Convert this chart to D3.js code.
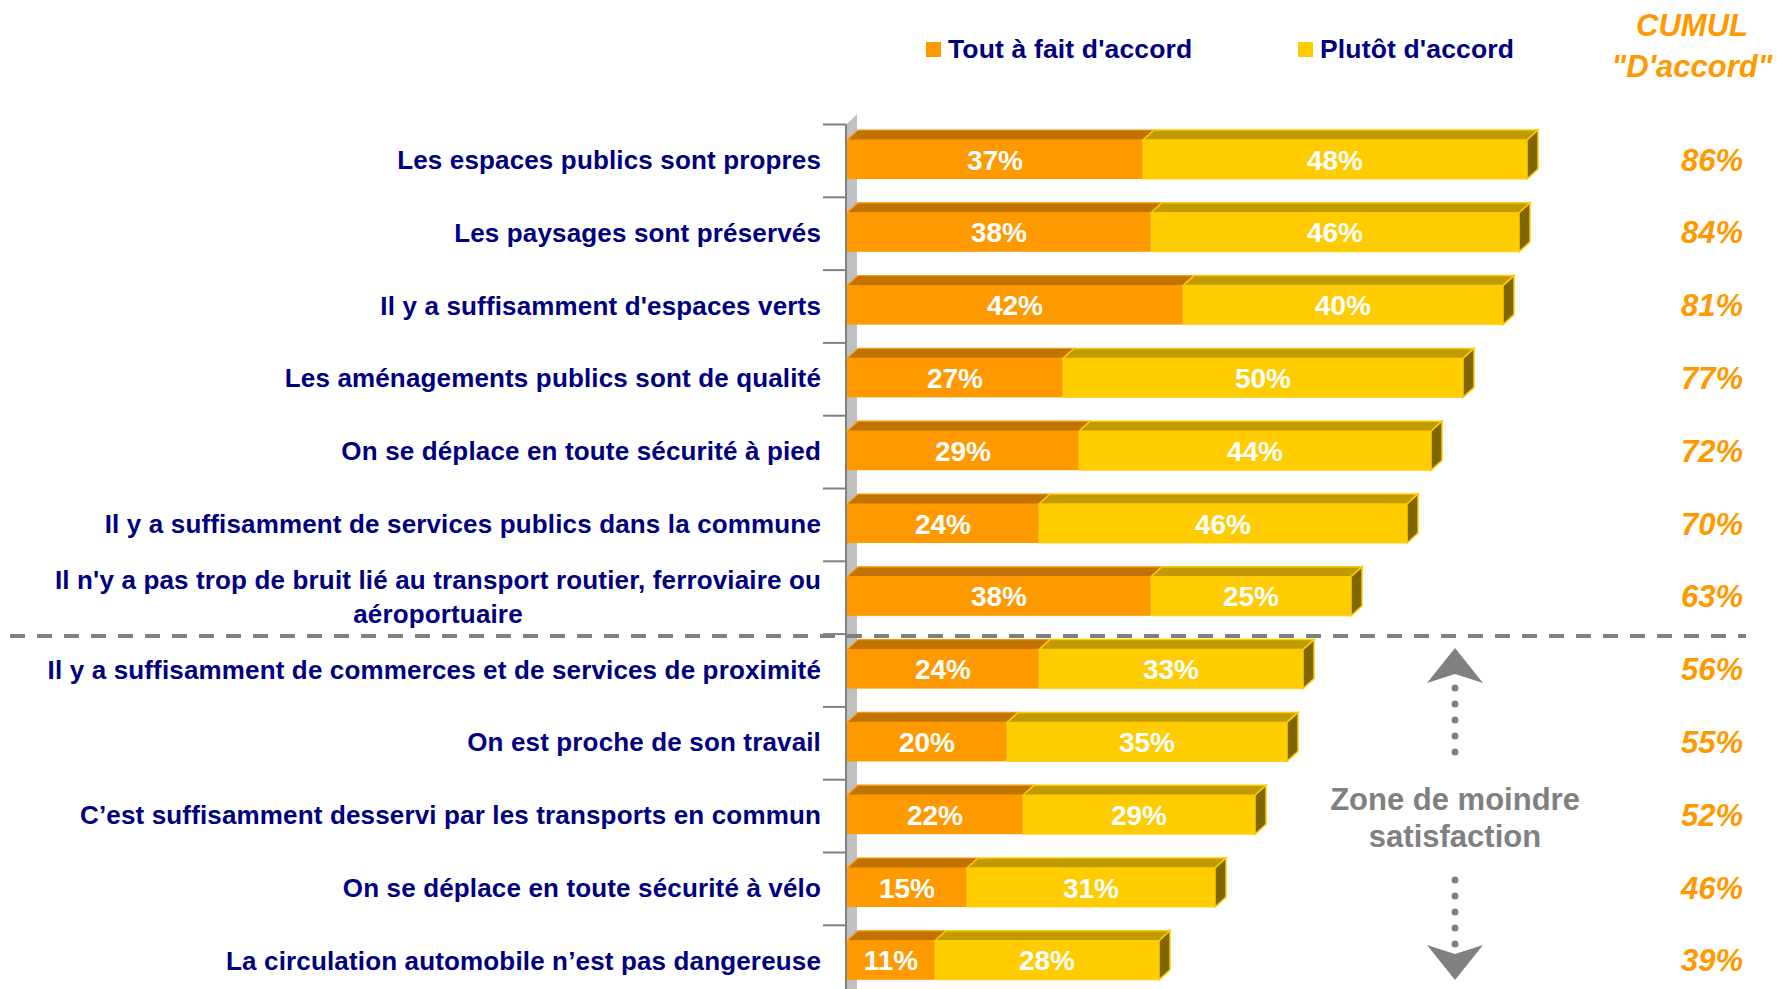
<!DOCTYPE html>
<html>
<head>
<meta charset="utf-8">
<script src="https://cdn.jsdelivr.net/npm/d3@7"></script>
<style>
  html, body { margin: 0; padding: 0; background: #fff; }
  svg { display: block; }
  text { font-family: "Liberation Sans", Arial, sans-serif; font-weight: bold; }
</style>
</head>
<body>
<svg id="chart" width="1778" height="989"></svg>
<script>
const categories = [
  "Les espaces publics sont propres",
  "Les paysages sont préservés",
  "Il y a suffisamment d'espaces verts",
  "Les aménagements publics sont de qualité",
  "On se déplace en toute sécurité à pied",
  "Il y a suffisamment de services publics dans la commune",
  "Il n'y a pas trop de bruit lié au transport routier, ferroviaire ou aéroportuaire",
  "Il y a suffisamment de commerces et de services de proximité",
  "On est proche de son travail",
  "C’est suffisamment desservi par les transports en commun",
  "On se déplace en toute sécurité à vélo",
  "La circulation automobile n’est pas dangereuse"
];
const toutAFait = [37, 38, 42, 27, 29, 24, 38, 24, 20, 22, 15, 11];
const plutot    = [48, 46, 40, 50, 44, 46, 25, 33, 35, 29, 31, 28];
const cumul     = [86, 84, 81, 77, 72, 70, 63, 56, 55, 52, 46, 39];
const seriesNames = ["Tout à fait d'accord", "Plutôt d'accord"];
const cumulTitle = ["CUMUL", "\"D'accord\""];
const zoneText = ["Zone de moindre", "satisfaction"];
const thresholdAfter = 7; // dashed line before this category index

const svg = d3.select("#chart");
const navy = "#000080", gray = "#808080", orangeCol = "#FF9900";

const x = d3.scaleLinear().domain([0, 100]).range([847, 1647]);
const step = 72.8, y0 = 124.5;
const y = d3.scaleBand().domain(categories).range([y0, y0 + step * categories.length]).padding(0);

const DX = 11, DY = 10, FRONT_OFF = 15.5, FRONT_H = 39;

// ---- axis wall ----
const axX = 846;
svg.append("path")
  .attr("d", `M${axX},${y0} L${axX + DX},${y0 - DY} L${axX + DX},989 L${axX},989 Z`)
  .attr("fill", "#C0C0C0");
const bounds = categories.map(c => y(c)).concat([y0 + step * categories.length]);
svg.append("g").selectAll("line").data(bounds).join("line")
  .attr("x1", 823).attr("x2", axX).attr("y1", d => d).attr("y2", d => d)
  .attr("stroke", gray).attr("stroke-width", 2);
svg.append("line").attr("x1", axX).attr("x2", axX).attr("y1", y0).attr("y2", 989)
  .attr("stroke", gray).attr("stroke-width", 2);

// ---- bars ----
const rows = categories.map((c, i) => ({ c, i, a: toutAFait[i], b: plutot[i], cum: cumul[i] }));
const g = svg.append("g");
function poly(pts) { return "M" + pts.map(p => p.join(",")).join("L") + "Z"; }
rows.forEach(r => {
  const top = y(r.c) + FRONT_OFF, bot = top + FRONT_H;
  const xs = x(0), xa = x(r.a), xb = x(r.a + r.b);
  g.append("rect").attr("x", xs).attr("y", top).attr("width", xa - xs).attr("height", FRONT_H)
    .attr("fill", "#FF9900");
  g.append("path").attr("d", poly([[xs, top], [xs + DX, top - DY], [xa + DX, top - DY], [xa, top]]))
    .attr("fill", "#C07300").attr("stroke", "#FF9900").attr("stroke-width", 1.2);
  g.append("rect").attr("x", xa).attr("y", top).attr("width", xb - xa).attr("height", FRONT_H)
    .attr("fill", "#FFCC00").attr("stroke", "#FFD21F").attr("stroke-width", 1);
  g.append("path").attr("d", poly([[xa, top], [xa + DX, top - DY], [xb + DX, top - DY], [xb, top]]))
    .attr("fill", "#C09A00").attr("stroke", "#FFCC00").attr("stroke-width", 1.5);
  g.append("path").attr("d", poly([[xb, top], [xb + DX, top - DY], [xb + DX, bot - DY], [xb, bot]]))
    .attr("fill", "#806600").attr("stroke", "#FFCC00").attr("stroke-width", 1.5);
  g.append("text").attr("x", (xs + xa) / 2).attr("y", top + FRONT_H / 2).attr("dy", "0.36em")
    .attr("text-anchor", "middle").attr("fill", "#fff").attr("font-size", 28).text(r.a + "%");
  g.append("text").attr("x", (xa + xb) / 2).attr("y", top + FRONT_H / 2).attr("dy", "0.36em")
    .attr("text-anchor", "middle").attr("fill", "#fff").attr("font-size", 28).text(r.b + "%");
  g.append("text").attr("x", 1712).attr("y", top + FRONT_H / 2).attr("dy", "0.36em")
    .attr("text-anchor", "middle").attr("fill", orangeCol).attr("font-size", 31)
    .attr("font-style", "italic").text(r.cum + "%");
});

// ---- category labels (wrapped, centred block right-aligned at 821) ----
const labelRight = 821, wrapW = 810, LS = 0.15;
const measure = svg.append("text").attr("font-size", 26).attr("letter-spacing", LS).attr("visibility", "hidden");
function w(t) { measure.text(t); return measure.node().getComputedTextLength(); }
rows.forEach(r => {
  const words = r.c.split(" ");
  const lines = []; let cur = "";
  words.forEach(wd => {
    const t = cur ? cur + " " + wd : wd;
    if (w(t) > wrapW && cur) { lines.push(cur); cur = wd; } else cur = t;
  });
  lines.push(cur);
  const maxW = d3.max(lines, w);
  const cx = labelRight - maxW / 2;
  const base = y(r.c) + 44.5;
  const lh = 34;
  const t = svg.append("text").attr("text-anchor", "middle").attr("font-size", 26)
    .attr("letter-spacing", LS).attr("fill", navy);
  lines.forEach((ln, k) => {
    t.append("tspan").attr("x", cx).attr("y", base + (k - (lines.length - 1) / 2) * lh).text(ln);
  });
});
measure.remove();

// ---- dashed threshold line ----
const yT = y(categories[thresholdAfter]) + 2;
svg.append("line").attr("x1", 10).attr("x2", 1746).attr("y1", yT).attr("y2", yT)
  .attr("stroke", gray).attr("stroke-width", 4).attr("stroke-dasharray", "15,12");

// ---- legend ----
const legend = [
  { name: seriesNames[0], color: "#FF9900", sx: 926, tx: 948 },
  { name: seriesNames[1], color: "#FFCC00", sx: 1298, tx: 1320 }
];
legend.forEach(l => {
  svg.append("rect").attr("x", l.sx).attr("y", 42).attr("width", 15).attr("height", 15).attr("fill", l.color);
  svg.append("text").attr("x", l.tx).attr("y", 58).attr("font-size", 26.5).attr("letter-spacing", 0.15)
    .attr("fill", navy).text(l.name);
});

// ---- cumul header ----
cumulTitle.forEach((t, k) => {
  svg.append("text").attr("x", 1692).attr("y", 36 + k * 41).attr("text-anchor", "middle")
    .attr("font-size", 31).attr("font-style", "italic").attr("fill", orangeCol).text(t);
});

// ---- zone annotation ----
const ax = 1455;
svg.append("path").attr("d", poly([[ax, 648], [ax + 28, 683], [ax, 674], [ax - 28, 683]])).attr("fill", gray);
svg.append("path").attr("d", poly([[ax, 980], [ax + 28, 945], [ax, 954], [ax - 28, 945]])).attr("fill", gray);
[[688, 768], [880, 945]].forEach(([a, b]) => {
  svg.append("line").attr("x1", ax).attr("x2", ax).attr("y1", a).attr("y2", b)
    .attr("stroke", gray).attr("stroke-width", 7).attr("stroke-linecap", "round")
    .attr("stroke-dasharray", "0,16");
});
zoneText.forEach((t, k) => {
  svg.append("text").attr("x", ax).attr("y", 810 + k * 37).attr("text-anchor", "middle")
    .attr("font-size", 31).attr("fill", gray).text(t);
});
</script>
</body>
</html>
